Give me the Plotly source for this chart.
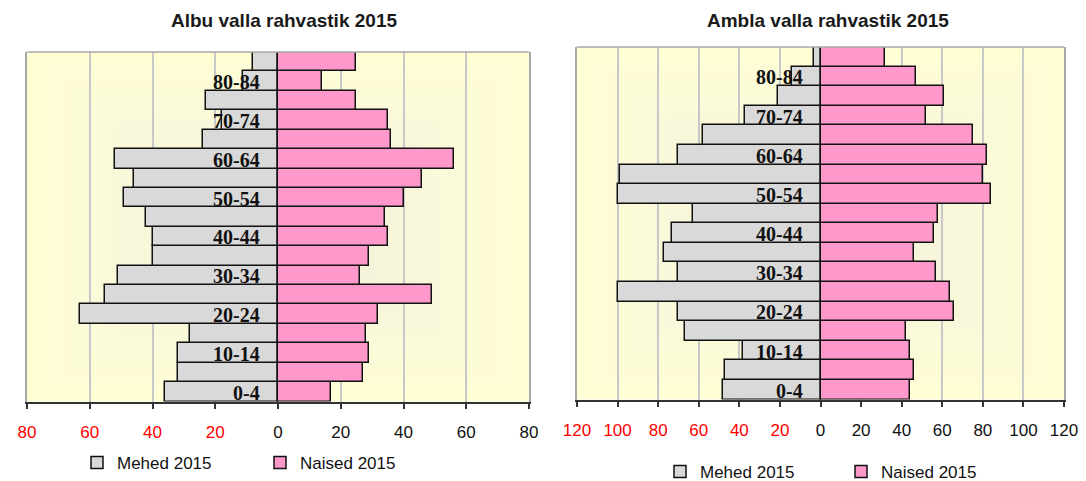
import plotly.graph_objects as go

W, H = 1086, 481

ages = ["0-4", "5-9", "10-14", "15-19", "20-24", "25-29", "30-34", "35-39", "40-44",
        "45-49", "50-54", "55-59", "60-64", "65-69", "70-74", "75-79", "80-84", "85+"]

albu_mehed = [36, 32, 32, 28, 63, 55, 51, 40, 40, 42, 49, 46, 52, 24, 18, 23, 11, 8]
albu_naised = [17, 27, 29, 28, 32, 49, 26, 29, 35, 34, 40, 46, 56, 36, 35, 25, 14, 25]

ambla_mehed = [48, 47, 38, 67, 70, 100, 70, 77, 73, 63, 100, 99, 70, 58, 37, 21, 14, 3]
ambla_naised = [44, 46, 44, 42, 66, 64, 57, 46, 56, 58, 84, 80, 82, 75, 52, 61, 47, 32]

albu_ticks = [-80, -60, -40, -20, 0, 20, 40, 60, 80]
ambla_ticks = [-120, -100, -80, -60, -40, -20, 0, 20, 40, 60, 80, 100, 120]

titles = ["Albu valla rahvastik 2015", "Ambla valla rahvastik 2015"]
legend_names = ["Mehed 2015", "Naised 2015"]

GRAY = "#D9D9D9"
PINK = "#FF99CC"
BG = "#FFFED5"
FRAME = "#A8A8A8"


def px_x(a, b):
    return [a / W, b / W]


def px_y(top, bottom):
    return [1 - bottom / H, 1 - top / H]


def tick_text(vals):
    out = []
    for v in vals:
        if v < 0:
            out.append(f"<span style='color:#FF0000'>{abs(v)}</span>")
        else:
            out.append(f"{v}")
    return out


fig = go.Figure()

panels = [
    dict(m=albu_mehed, n=albu_naised, ticks=albu_ticks, rng=[-80, 80],
         xa="x", ya="y", leg="legend"),
    dict(m=ambla_mehed, n=ambla_naised, ticks=ambla_ticks, rng=[-120, 120],
         xa="x2", ya="y2", leg="legend2"),
]

for p in panels:
    fig.add_trace(go.Bar(
        y=ages, x=[-v for v in p["m"]], orientation="h", name=legend_names[0],
        marker=dict(color=GRAY, line=dict(color="#111111", width=1.5)),
        xaxis=p["xa"], yaxis=p["ya"], legend=p["leg"],
        customdata=p["m"], hovertemplate="%{y}: %{customdata}<extra></extra>"))
    fig.add_trace(go.Bar(
        y=ages, x=p["n"], orientation="h", name=legend_names[1],
        marker=dict(color=PINK, line=dict(color="#111111", width=1.5)),
        xaxis=p["xa"], yaxis=p["ya"], legend=p["leg"],
        hovertemplate="%{y}: %{x}<extra></extra>"))

xcommon = dict(
    showgrid=True, gridcolor="#C8C8C8", gridwidth=1.5, zeroline=False,
    showline=True, linecolor="#333333", linewidth=1.5,
    ticks="outside", ticklen=6, tickcolor="#333333", tickwidth=1.5,
    tickfont=dict(family="Liberation Sans, Arial", size=17, color="#111111"),
    ticklabelstandoff=8, fixedrange=True, automargin=False,
)
ycommon = dict(
    showticklabels=False, showgrid=False, zeroline=False, ticks="",
    showline=True, linecolor=FRAME, linewidth=1.5, mirror=True,
    range=[-0.5, 17.5], fixedrange=True, automargin=False,
)

fig.update_layout(
    xaxis=dict(domain=px_x(27, 529), range=panels[0]["rng"], anchor="y",
               tickvals=albu_ticks, ticktext=tick_text(albu_ticks), **xcommon),
    yaxis=dict(domain=px_y(52, 401.5), anchor="x", **ycommon),
    xaxis2=dict(domain=px_x(577, 1064), range=panels[1]["rng"], anchor="y2",
                tickvals=ambla_ticks, ticktext=tick_text(ambla_ticks), **xcommon),
    yaxis2=dict(domain=px_y(47, 399.5), anchor="x2", **ycommon),
)

# soft centre-lightening of the plot background + top frame line
for xa, ya in [("x", "y"), ("x2", "y2")]:
    for k in range(1, 13):
        s = 0.034 * k
        fig.add_shape(type="rect", xref=f"{xa} domain", yref=f"{ya} domain",
                      x0=s * 0.9, x1=1 - s * 0.9, y0=s, y1=1 - s,
                      fillcolor="#EDEDE6", opacity=0.08, line=dict(width=0), layer="below")
    fig.add_shape(type="line", xref=f"{xa} domain", yref=f"{ya} domain",
                  x0=0, x1=1, y0=1, y1=1, line=dict(color=FRAME, width=1.5))

annotations = []
for p in panels:
    for i in range(0, len(ages), 2):
        annotations.append(dict(
            x=0, y=ages[i], xref=p["xa"], yref=p["ya"], text=f"<b>{ages[i]}</b>",
            showarrow=False, xanchor="right", yanchor="middle", xshift=-16, yshift=-1,
            font=dict(family="Liberation Serif, Times New Roman", size=20, color="#111111")))

annotations.append(dict(x=284 / W, y=1 - 20 / H, xref="paper", yref="paper",
                        text=f"<b>{titles[0]}</b>", showarrow=False,
                        xanchor="center", yanchor="middle",
                        font=dict(family="Liberation Sans, Arial", size=19, color="#1A1A1A")))
annotations.append(dict(x=828 / W, y=1 - 20 / H, xref="paper", yref="paper",
                        text=f"<b>{titles[1]}</b>", showarrow=False,
                        xanchor="center", yanchor="middle",
                        font=dict(family="Liberation Sans, Arial", size=19, color="#1A1A1A")))

legfont = dict(family="Liberation Sans, Arial", size=17, color="#111111")
fig.update_layout(
    annotations=annotations,
    barmode="relative", bargap=0,
    width=W, height=H,
    margin=dict(l=0, r=0, t=0, b=0, autoexpand=False),
    paper_bgcolor="white", plot_bgcolor=BG,
    showlegend=True,
    legend=dict(orientation="h", x=77 / W, xanchor="left", y=1 - 463 / H, yanchor="middle",
                entrywidth=138, entrywidthmode="pixels", font=legfont,
                bgcolor="rgba(0,0,0,0)", tracegroupgap=0),
    legend2=dict(orientation="h", x=660 / W, xanchor="left", y=1 - 472 / H, yanchor="middle",
                 entrywidth=136, entrywidthmode="pixels", font=legfont,
                 bgcolor="rgba(0,0,0,0)", tracegroupgap=0),
)

fig.write_html(
    "out.html",
    config={"displayModeBar": False},
    post_script="document.body.style.margin='0';document.body.style.overflow='hidden';",
)
